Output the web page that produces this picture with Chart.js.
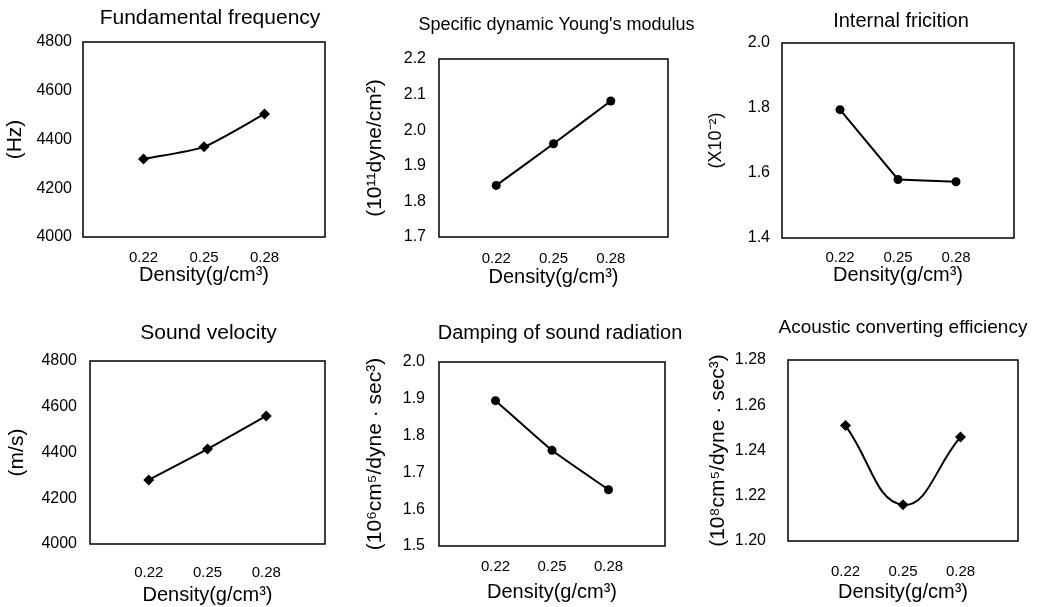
<!DOCTYPE html>
<html>
<head>
<meta charset="utf-8">
<script src="https://cdn.jsdelivr.net/npm/chart.js@4.4.1/dist/chart.umd.min.js"></script>
<style>
  html, body { margin: 0; padding: 0; background: #fff; }
  #page { position: relative; width: 1044px; height: 607px; overflow: hidden; background: #fff; }
  #page canvas { position: absolute; }
</style>
</head>
<body>
<div id="page"></div>
<script>
// data
const density = [0.22, 0.25, 0.28];
const fundamentalFreq = [4320, 4370, 4505];
const specificModulus = [1.845, 1.962, 2.082];
const internalFriction = [1.795, 1.58, 1.573];
const soundVelocity = [4280, 4415, 4560];
const dampingRadiation = [1.895, 1.76, 1.653];
const acousticEfficiency = [1.251, 1.216, 1.246];

const titles = [
    "Fundamental frequency",
    "Specific dynamic Young's modulus",
    "Internal fricition",
    "Sound velocity",
    "Damping of sound radiation",
    "Acoustic converting efficiency"
];
const yTitles = [
    "(Hz)",
    "(10\u00b9\u00b9dyne/cm\u00b2)",
    "(X10\u207b\u00b2)",
    "(m/s)",
    "(10\u2076cm\u2075/dyne \u00b7 sec\u00b3)",
    "(10\u2078cm\u2075/dyne \u00b7 sec\u00b3)"
];
const xTitle = "Density(g/cm\u00b3)";
const yMin = [4000, 1.7, 1.4, 4000, 1.5, 1.20];
const yMax = [4800, 2.2, 2.0, 4800, 2.0, 1.28];
const yStep = [200, 0.1, 0.2, 200, 0.1, 0.02];
const yDecimals = [0, 1, 1, 0, 1, 2];
const series = [fundamentalFreq, specificModulus, internalFriction, soundVelocity, dampingRadiation, acousticEfficiency];

// layout of each panel: cell on the page and plot box inside it (dx = title shift from plot centre)
const cells = [
    { x: 0,   y: 0,   h: 300, L: 83, T: 42, R: 325, B: 237, yT: 15, tY: 18, xt: 258, xT: 275, gap: 11, ts: 21, yts: 21, dx: 6 },
    { x: 348, y: 0,   h: 300, L: 91, T: 59, R: 320, B: 237, yT: 27, tY: 25, xt: 259, xT: 277, gap: 13, ts: 18, yts: 21, dx: 3 },
    { x: 696, y: 0,   h: 300, L: 86, T: 43, R: 318, B: 238, yT: 20, tY: 21, xt: 258, xT: 275, gap: 12, ts: 20, yts: 18, dx: 3 },
    { x: 0,   y: 300, h: 307, L: 90, T: 61, R: 325, B: 244, yT: 17, tY: 33, xt: 273, xT: 295, gap: 13, ts: 21, yts: 21, dx: 1 },
    { x: 348, y: 300, h: 307, L: 91, T: 62, R: 317, B: 246, yT: 27, tY: 33, xt: 267, xT: 292, gap: 14, ts: 20, yts: 21, dx: 8 },
    { x: 696, y: 300, h: 307, L: 92, T: 60, R: 322, B: 241, yT: 22, tY: 28, xt: 272, xT: 292, gap: 22, ts: 19, yts: 21, dx: 0 }
];
const markers = ["rectRot", "circle", "circle", "rectRot", "circle", "rectRot"];
const tensions = [0.2, 0.15, 0, 0, 0.15, 0.45];

Chart.defaults.font.family = "'Liberation Sans', Arial, sans-serif";
Chart.defaults.color = "#000";

const boxFrame = {
    id: "boxFrame",
    afterDatasetsDraw(chart) {
        const { ctx, chartArea: a } = chart;
        ctx.save();
        ctx.strokeStyle = "#000";
        ctx.lineWidth = 1.5;
        ctx.strokeRect(a.left, a.top, a.right - a.left, a.bottom - a.top);
        ctx.restore();
    }
};

const page = document.getElementById("page");

cells.forEach((c, i) => {
    // an empty right-hand axis balances the left one so the title centres over the plot
    const rightW = c.L + 2 * c.dx;
    const w = c.R + rightW;

    const canvas = document.createElement("canvas");
    canvas.width = w;
    canvas.height = c.h;
    canvas.style.left = c.x + "px";
    canvas.style.top = c.y + "px";
    canvas.style.width = w + "px";
    canvas.style.height = c.h + "px";
    page.appendChild(canvas);

    const titleLH = c.ts * 1.2;
    const yTitleLH = c.yts * 1.2;
    const xTitleLH = 20 * 1.2;
    const xTickLH = 15 * 1.2;

    new Chart(canvas, {
        type: "line",
        data: {
            datasets: [{
                data: density.map((d, k) => ({ x: d, y: series[i][k] })),
                borderColor: "#000",
                backgroundColor: "#000",
                borderWidth: 2,
                pointStyle: markers[i],
                pointRadius: markers[i] === "circle" ? 4.5 : 5.5,
                pointBackgroundColor: "#000",
                pointBorderWidth: 0,
                tension: tensions[i],
                clip: false
            }]
        },
        options: {
            responsive: false,
            animation: false,
            events: [],
            layout: { padding: 0 },
            plugins: {
                legend: { display: false },
                tooltip: { enabled: false },
                title: {
                    display: true,
                    text: titles[i],
                    font: { size: c.ts, weight: "normal" },
                    padding: { top: c.tY - titleLH / 2, bottom: c.T - c.tY - titleLH / 2 }
                }
            },
            scales: {
                x: {
                    type: "linear",
                    min: 0.19,
                    max: 0.31,
                    grid: { display: false, drawTicks: false },
                    border: { display: false },
                    afterBuildTicks: axis => {
                        axis.ticks = density.map(v => ({ value: v }));
                    },
                    afterFit: axis => { axis.height = c.h - c.B; },
                    ticks: {
                        font: { size: 15 },
                        padding: c.xt - c.B - xTickLH / 2,
                        maxRotation: 0,
                        callback: v => v.toFixed(2)
                    },
                    title: {
                        display: true,
                        text: xTitle,
                        font: { size: 20 },
                        padding: { top: 0, bottom: c.h - c.xT - xTitleLH / 2 }
                    }
                },
                y: {
                    min: yMin[i],
                    max: yMax[i],
                    grid: { display: false, drawTicks: false },
                    border: { display: false },
                    afterFit: axis => { axis.width = c.L; },
                    ticks: {
                        stepSize: yStep[i],
                        font: { size: 16 },
                        padding: c.gap,
                        callback: v => v.toFixed(yDecimals[i])
                    },
                    title: {
                        display: true,
                        text: yTitles[i],
                        font: { size: c.yts },
                        padding: { top: c.yT - yTitleLH / 2, bottom: 0 }
                    }
                },
                spacer: {
                    type: "linear",
                    position: "right",
                    grid: { display: false, drawTicks: false },
                    border: { display: false },
                    ticks: { display: false },
                    afterFit: axis => { axis.width = rightW; }
                }
            }
        },
        plugins: [boxFrame]
    });
});
</script>
</body>
</html>
